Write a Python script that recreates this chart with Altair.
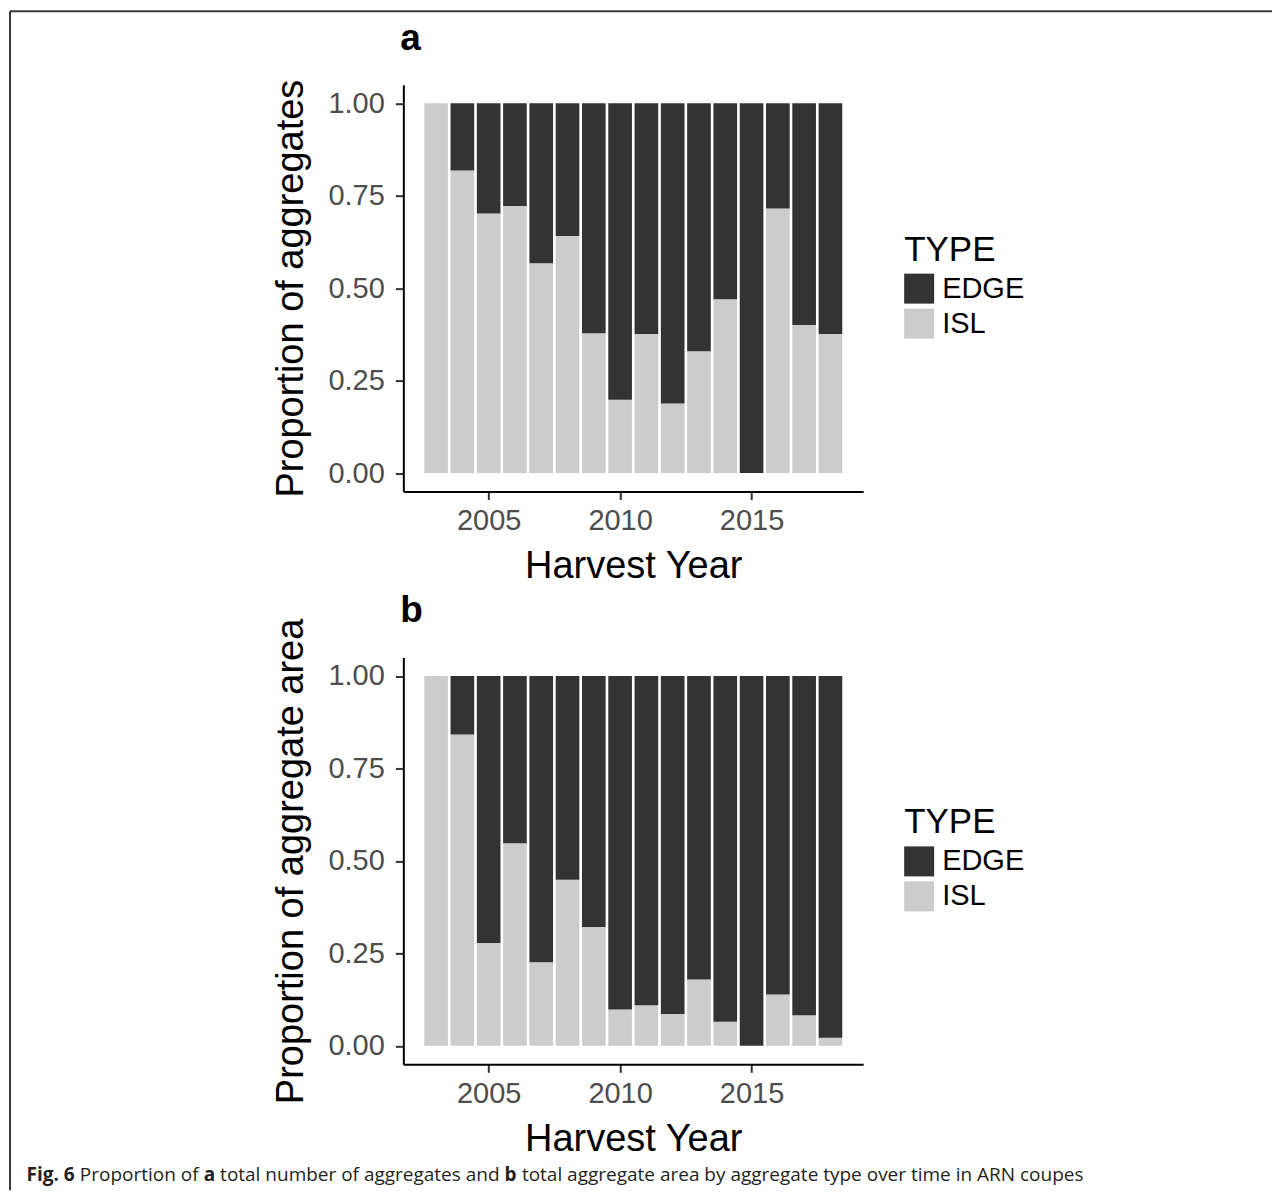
import altair as alt
import pandas as pd

years = list(range(2003, 2019))
types = ["EDGE", "ISL"]
type_colors = ["#333333", "#CCCCCC"]

# panel a: proportion of number of aggregates
isl_count = [1.000, 0.818, 0.702, 0.722, 0.567, 0.641, 0.378, 0.198,
             0.376, 0.188, 0.329, 0.470, 0.000, 0.715, 0.400, 0.376]
edge_count = [0.000, 0.182, 0.298, 0.278, 0.433, 0.359, 0.622, 0.802,
              0.624, 0.812, 0.671, 0.530, 1.000, 0.285, 0.600, 0.624]
# panel b: proportion of aggregate area
isl_area = [1.000, 0.842, 0.278, 0.548, 0.226, 0.449, 0.321, 0.098,
            0.110, 0.086, 0.179, 0.065, 0.000, 0.139, 0.083, 0.022]
edge_area = [0.000, 0.158, 0.722, 0.452, 0.774, 0.551, 0.679, 0.902,
             0.890, 0.914, 0.821, 0.935, 1.000, 0.861, 0.917, 0.978]

y_ticks = [0.0, 0.25, 0.5, 0.75, 1.0]
x_ticks = [2005, 2010, 2015]

caption_parts = ["Fig. 6", "Proportion of", "a", "total number of aggregates and", "b",
                 "total aggregate area by aggregate type over time in ARN coupes"]
caption_bold = [True, False, True, False, True, False]


def make_df(isl, edge):
    rows = []
    for yr, i, e in zip(years, isl, edge):
        rows.append({"year": yr, "TYPE": "ISL", "y0": 0.0, "y1": i})
        rows.append({"year": yr, "TYPE": "EDGE", "y0": i, "y1": i + e})
    return pd.DataFrame(rows)


one = pd.DataFrame({"k": [0]})
FONT = "Liberation Sans"


def bars(df, ytitle):
    return alt.Chart(df).transform_calculate(
        x0="datum.year - 0.45", x1="datum.year + 0.45"
    ).mark_bar().encode(
        x=alt.X("x0:Q",
                scale=alt.Scale(domain=[2001.755, 2019.245], nice=False, zero=False),
                axis=alt.Axis(values=x_ticks, format="d", title="Harvest Year",
                              labelPadding=7, titlePadding=12)),
        x2="x1:Q",
        y=alt.Y("y0:Q",
                scale=alt.Scale(domain=[-0.05, 1.05], nice=False, zero=False),
                axis=alt.Axis(values=y_ticks, format=".2f", title=ytitle,
                              labelPadding=11, titlePadding=17)),
        y2="y1:Q",
        color=alt.Color("TYPE:N", scale=alt.Scale(domain=types, range=type_colors),
                        legend=alt.Legend(title="TYPE", orient="none",
                                          legendX=501, legendY=148)),
    )


def panel_label(txt):
    return alt.Chart(one).mark_text(
        text=txt, font=FONT, fontSize=37, fontWeight="bold", align="left",
        baseline="alphabetic", color="black"
    ).encode(x=alt.value(-3), y=alt.value(-35))


# frame of the figure (relative to panel a's plot origin)
frame_top = alt.Chart(one).mark_rule(color="#3a3a3a", strokeWidth=2).encode(
    x=alt.value(-393.5), x2=alt.value(869), y=alt.value(-73.5))
frame_left = alt.Chart(one).mark_rule(color="#3a3a3a", strokeWidth=2).encode(
    x=alt.value(-393.5), y=alt.value(-73.5), y2=alt.value(1106))

cap_x = [26, 79.4, 203.3, 219.7, 504.3, 521.6]
caption_layers = []
for txt, bold, px in zip(caption_parts, caption_bold, cap_x):
    caption_layers.append(
        alt.Chart(one).mark_text(
            text=txt, font="Open Sans", fontSize=19,
            fontWeight="bold" if bold else "normal",
            align="left", baseline="alphabetic", color="#231f20"
        ).encode(x=alt.value(px - 403), y=alt.value(1181 - 84))
    )

panel_a = alt.layer(
    bars(make_df(isl_count, edge_count), "Proportion of aggregates"),
    panel_label("a"), frame_top, frame_left, *caption_layers
).properties(width=460, height=407)

panel_b = alt.layer(
    bars(make_df(isl_area, edge_area), "Proportion of aggregate area"),
    panel_label("b")
).properties(width=460, height=407)

chart = alt.vconcat(panel_a, panel_b, spacing=166, bounds="flush").resolve_scale(
    color="independent"
).configure_view(stroke=None).configure_axis(
    domainColor="black", domainWidth=2, tickColor="#333333", tickWidth=2, tickSize=8,
    labelFont=FONT, labelFontSize=29, labelColor="#4D4D4D", labelFlush=False,
    titleFont=FONT, titleFontSize=38, titleFontWeight="normal", titleColor="black",
    grid=False
).configure_legend(
    titleFont=FONT, titleFontSize=35, titleFontWeight="normal", titleColor="black",
    labelFont=FONT, labelFontSize=29, labelColor="black",
    symbolType="square", symbolSize=900, symbolStrokeWidth=0,
    labelOffset=8, rowPadding=5, titlePadding=6, padding=0
).properties(
    padding={"left": 0.5, "top": 1.5, "right": 0, "bottom": 0},
    background="white"
)

chart.save("out.html", embed_options={"renderer": "svg", "actions": False})
